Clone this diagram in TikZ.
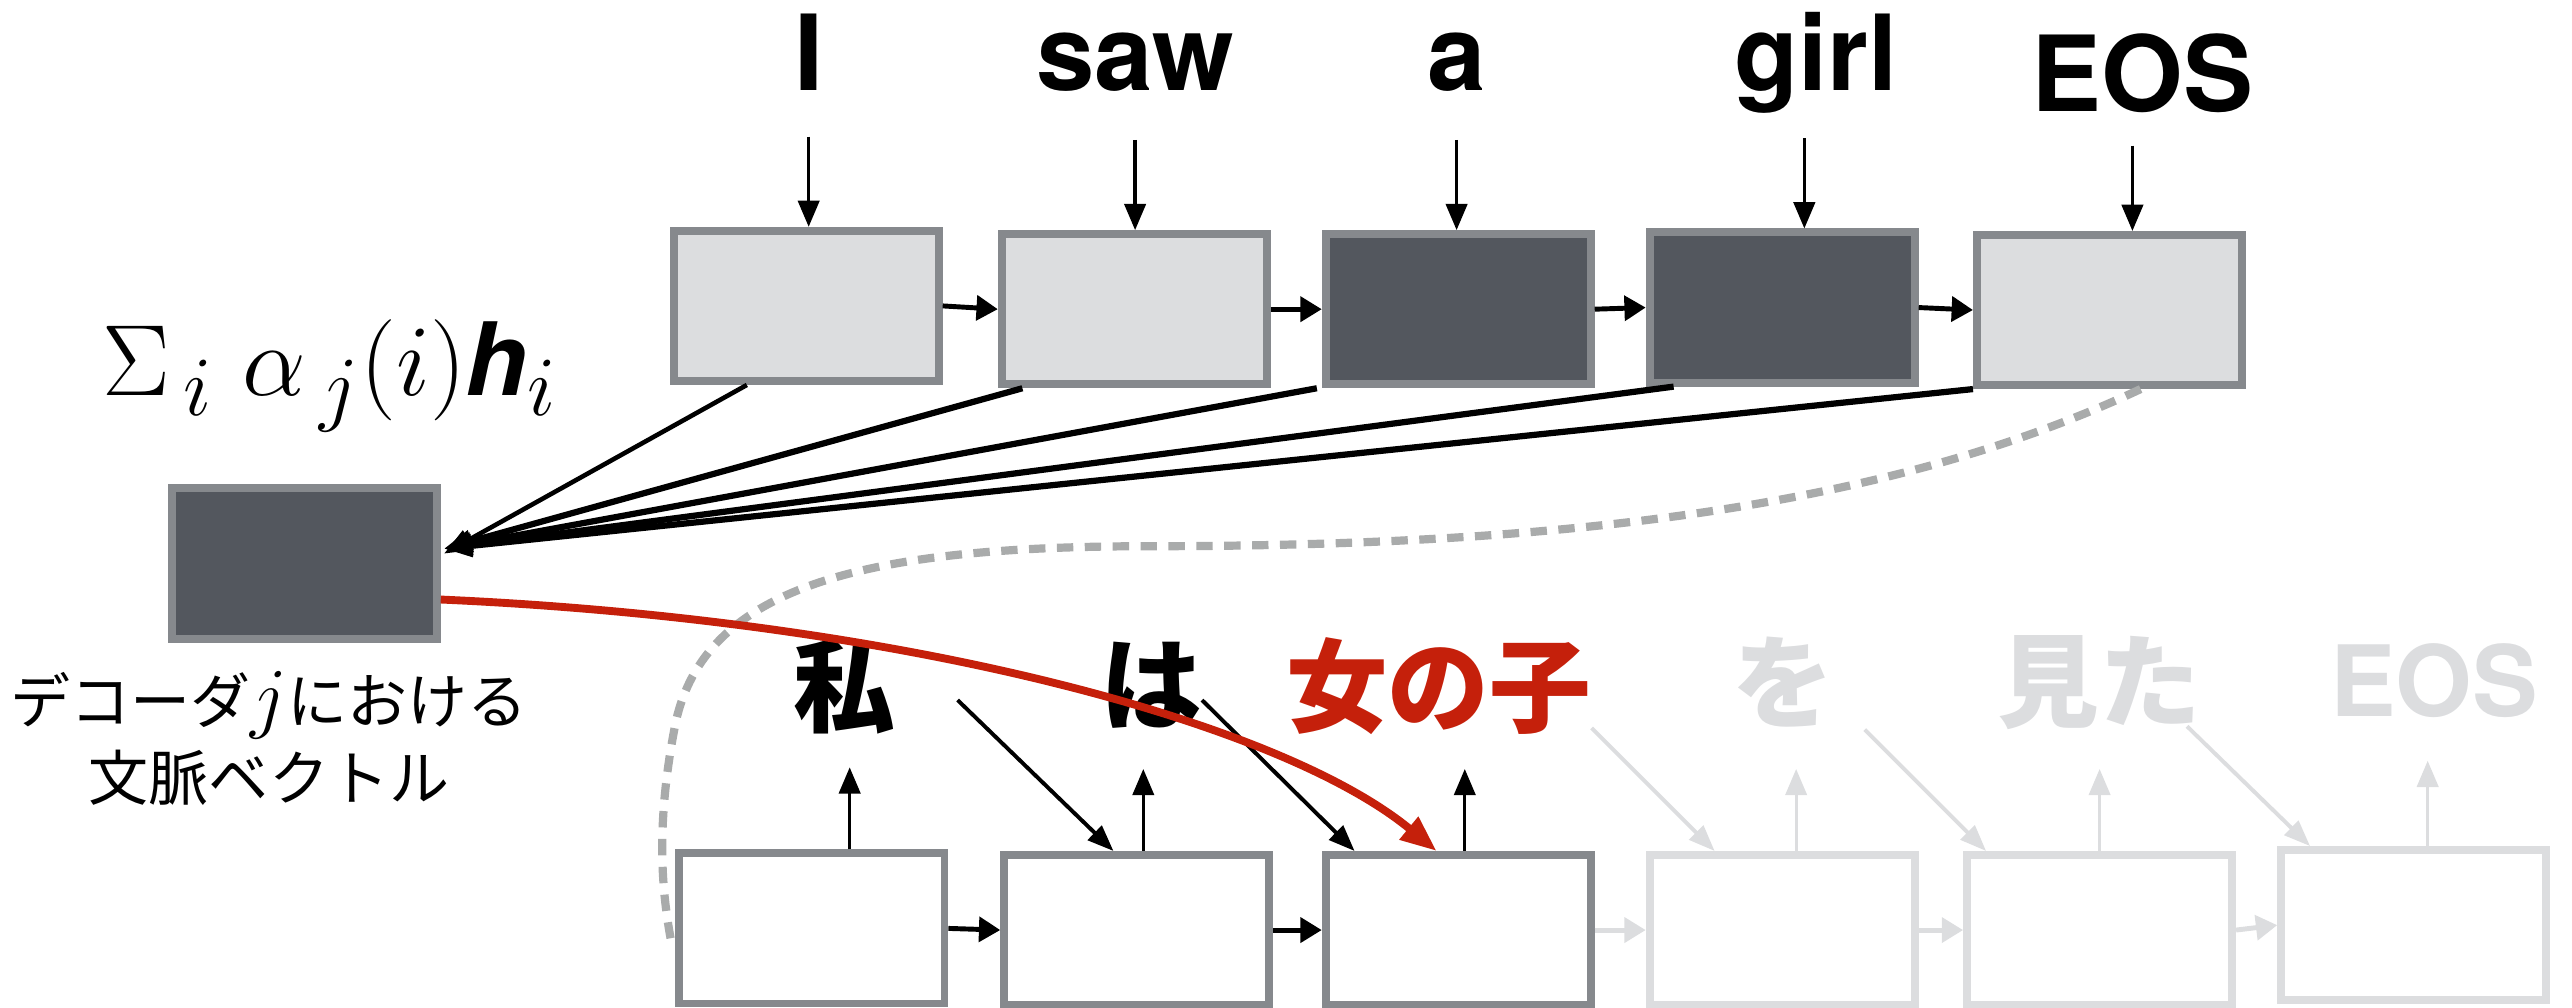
\documentclass[tikz,border=0pt]{standalone}
\usepackage{fontspec}
\usetikzlibrary{arrows.meta,calc}
\newfontfamily\enfont{TeX Gyre Heros}
\newfontfamily\jpfont{Noto Sans CJK JP}
\definecolor{lightfill}{HTML}{DCDDDF}
\definecolor{darkfill}{HTML}{53575E}
\definecolor{bordergray}{HTML}{86898D}
\definecolor{fadegray}{HTML}{DCDDDF}
\definecolor{dashgray}{HTML}{A9ABAB}
\definecolor{accentred}{HTML}{C5200B}
\begin{document}
\begin{tikzpicture}[x=0.5pt,y=-0.5pt,
  cell/.style={draw=bordergray, line width=2.4pt, minimum width=80.8pt, minimum height=45.8pt, inner sep=0pt},
  lightcell/.style={cell, fill=lightfill},
  darkcell/.style={cell, fill=darkfill},
  whitecell/.style={cell, fill=white},
  fadecell/.style={cell, draw=fadegray, fill=white},
  enword/.style={font=\enfont\bfseries\fontsize{32}{32}\selectfont, anchor=base, inner sep=0pt},
  jpword/.style={font=\jpfont\bfseries\fontsize{31}{31}\selectfont, inner sep=0pt},
  dnarrow/.style={-{Triangle[length=8pt,width=6.5pt]}, line width=1pt, black},
  harrow/.style={-{Triangle[length=6.5pt,width=7.5pt]}, line width=1.5pt, black},
  attn/.style={-{Triangle[length=8.5pt,width=6.5pt]}, line width=1.9pt, black},
  fbarrow/.style={-{Triangle[length=8pt,width=6pt]}, line width=1.2pt, black},
]
\useasboundingbox (0,0) rectangle (1568,614);

% encoder cells
\node[lightcell] (b1) at (491.5,186.5) {};
\node[lightcell] (b2) at (691.5,188.5) {};
\node[darkcell]  (b3) at (889,188.5) {};
\node[darkcell]  (b4) at (1086.5,187.5) {};
\node[lightcell] (b5) at (1286,189) {};

% input words
\node[enword] (w1) at (493,55) {I};
\node[enword] (w2) at (692,55) {saw};
\node[enword] (w3) at (888,55) {a};
\node[enword] (w4) at (1107,55) {girl};
\node[enword] (w5) at (1306,68) {EOS};

\draw[dnarrow] ($(b1.north)+(1.5,-55)$) -- ($(b1.north)+(1.5,0)$);
\draw[dnarrow] ($(b2.north)+(0.5,-55)$) -- ($(b2.north)+(0.5,0)$);
\draw[dnarrow] ($(b3.north)+(-1,-55)$) -- ($(b3.north)+(-1,0)$);
\draw[dnarrow] ($(b4.north)+(13.5,-55)$) -- ($(b4.north)+(13.5,0)$);
\draw[dnarrow] ($(b5.north)+(14,-52)$) -- ($(b5.north)+(14,0)$);

\draw[harrow] (b1.east) -- (b2.west);
\draw[harrow] (b2.east) -- (b3.west);
\draw[harrow] (b3.east) -- (b4.west);
\draw[harrow] (b4.east) -- (b5.west);

% context vector
\node[darkcell] (ctx) at (185.5,343.5) {};
\node[inner sep=0pt, anchor=base west] (formula) at (62,241)
  {\scalebox{1.24}{\fontsize{24.88}{25}\selectfont$\Sigma_{\,i}\;\alpha_{\,j}(i)$\mbox{\enfont\bfseries\itshape h}$_{i}$}};
\node[font=\jpfont\fontsize{18.3}{23.5}\selectfont, align=center, inner sep=0pt] (lbl) at (164,450)
  {デコーダ\scalebox{1.4}{$j$}における\\文脈ベクトル};

% attention arrows
\draw[attn, line width=1.4pt] ($(b1.south west)+(47,0)$) -- ($(ctx.east)+(2,-6)$);
\draw[attn] ($(b2.south west)+(15,0)$) -- ($(ctx.east)+(2,-9)$);
\draw[attn] ($(b3.south west)+(-3,0)$) -- ($(ctx.east)+(2,-9)$);
\draw[attn] ($(b4.south west)+(17,0)$) -- ($(ctx.east)+(2,-9)$);
\draw[attn] (b5.south west) -- ($(ctx.east)+(2,-9)$);

% decoder cells
\node[whitecell] (d1) at (495,566) {};
\node[whitecell] (d2) at (693,567) {};
\node[whitecell] (d3) at (889,567) {};
\node[fadecell]  (d4) at (1086.5,567) {};
\node[fadecell]  (d5) at (1280,567) {};
\node[fadecell]  (d6) at (1471.5,564) {};

% dashed initial-state link
\coordinate (dsend) at ($(d1.west)+(-3,6)$);
\draw[dashgray, line width=2.5pt, dash pattern=on 5pt off 3.5pt]
  ($(b5.south)+(19,0)$) .. controls (1150,310) and (950,333) .. (700,333)
  .. controls (520,333) and (430,360) .. (412,440)
  .. controls (400,500) and (403,540) .. (dsend);

% output words
\node[jpword] (o1) at (515,418) {私};
\node[jpword] (o2) at (702,418) {は};
\node[jpword, text=accentred] (o3) at (877,418) {女の子};
\node[jpword, text=fadegray] (o4) at (1087,416) {を};
\node[jpword, text=fadegray] (o5) at (1280,416) {見た};
\node[enword, font=\enfont\bfseries\fontsize{30}{30}\selectfont, text=fadegray] (o6) at (1484,437) {EOS};

% upward output arrows
\draw[dnarrow] ($(d1.north)+(23,0)$) -- ++(0,-50);
\draw[dnarrow] ($(d2.north)+(4,0)$) -- ++(0,-50);
\draw[dnarrow] ($(d3.north)+(4,0)$) -- ++(0,-50);
\draw[dnarrow, fadegray] ($(d4.north)+(8.5,0)$) -- ++(0,-50);
\draw[dnarrow, fadegray] ($(d5.north)+(0,0)$) -- ++(0,-50);
\draw[dnarrow, fadegray] ($(d6.north)+(8.5,0)$) -- ++(0,-52);

% feedback arrows
\draw[fbarrow] ($(d2.north west)+(-26,-92)$) -- ($(d2.north west)+(69,0)$);
\draw[fbarrow] ($(d3.north west)+(-73,-92)$) -- ($(d3.north west)+(20,0)$);
\draw[fbarrow, fadegray] ($(d4.north west)+(-33,-75)$) -- ($(d4.north west)+(42,0)$);
\draw[fbarrow, fadegray] ($(d5.north west)+(-60,-74)$) -- ($(d5.north west)+(14,0)$);
\draw[fbarrow, fadegray] ($(d6.north west)+(-55,-73)$) -- ($(d6.north west)+(20,0)$);

% horizontal decoder arrows
\draw[harrow] (d1.east) -- (d2.west);
\draw[harrow] (d2.east) -- (d3.west);
\draw[harrow, fadegray] (d3.east) -- (d4.west);
\draw[harrow, fadegray] (d4.east) -- (d5.west);
\draw[harrow, fadegray] (d5.east) -- (d6.west);

% context to decoder
\draw[accentred, line width=2.4pt, -{Triangle[length=11pt,width=8.5pt]}]
  ($(ctx.east)+(0,22)$) .. controls (550,378) and (780,440) .. ($(d3.north west)+(70,0)$);
\end{tikzpicture}
\end{document}
